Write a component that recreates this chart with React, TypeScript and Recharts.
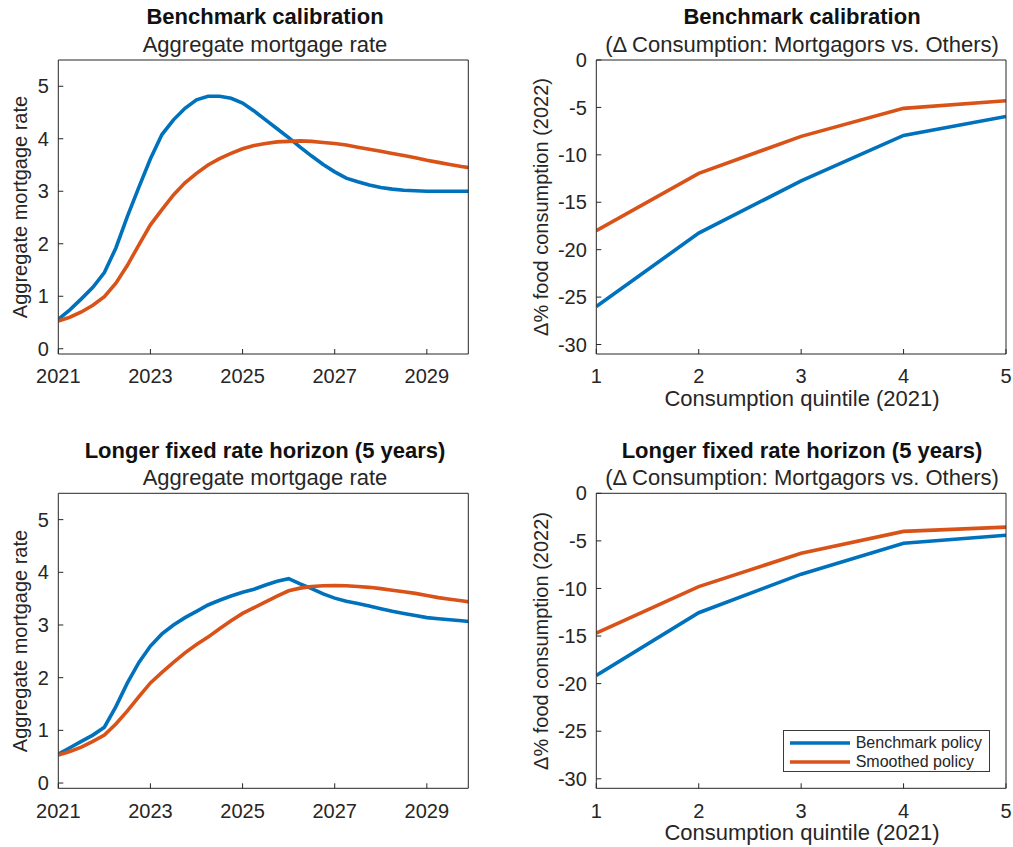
import { LineChart, Line, XAxis, YAxis, Legend } from 'recharts';

const FONT = '"Liberation Sans", Arial, Helvetica, sans-serif';
const BLUE = '#0072BD';
const ORANGE = '#D95319';
const INK = '#262626';
const LINE_W = 3.6;

// quarterly time grid
const years = [
  2021, 2021.25, 2021.5, 2021.75, 2022, 2022.25, 2022.5, 2022.75, 2023, 2023.25, 2023.5, 2023.75,
  2024, 2024.25, 2024.5, 2024.75, 2025, 2025.25, 2025.5, 2025.75, 2026, 2026.25, 2026.5, 2026.75,
  2027, 2027.25, 2027.5, 2027.75, 2028, 2028.25, 2028.5, 2028.75, 2029, 2029.25, 2029.5, 2029.75, 2030,
];

// aggregate mortgage rate, benchmark calibration
const rateBenchmark = [
  0.56, 0.74, 0.95, 1.17, 1.45, 1.92, 2.52, 3.08, 3.62, 4.08, 4.36, 4.58,
  4.74, 4.81, 4.81, 4.77, 4.68, 4.53, 4.36, 4.19, 4.02, 3.84, 3.67, 3.51,
  3.37, 3.25, 3.18, 3.12, 3.07, 3.04, 3.02, 3.01, 3.0, 3.0, 3.0, 3.0, 3.0,
];
const rateSmoothed = [
  0.53, 0.6, 0.7, 0.83, 0.99, 1.25, 1.59, 1.98, 2.36, 2.65, 2.93, 3.16,
  3.34, 3.5, 3.62, 3.72, 3.81, 3.87, 3.91, 3.94, 3.95, 3.96, 3.95, 3.93,
  3.91, 3.88, 3.84, 3.8, 3.76, 3.72, 3.68, 3.64, 3.59, 3.55, 3.51, 3.47, 3.44,
];

// aggregate mortgage rate, 5-year fixed horizon
const rateBenchmarkLong = [
  0.55, 0.67, 0.79, 0.91, 1.06, 1.45, 1.9, 2.29, 2.6, 2.83, 3.0, 3.14,
  3.26, 3.38, 3.47, 3.55, 3.62, 3.68, 3.76, 3.83, 3.88, 3.78, 3.69, 3.59,
  3.51, 3.45, 3.41, 3.36, 3.31, 3.26, 3.22, 3.18, 3.14, 3.12, 3.1, 3.08, 3.06,
];
const rateSmoothedLong = [
  0.53, 0.6, 0.68, 0.79, 0.91, 1.12, 1.37, 1.64, 1.9, 2.1, 2.29, 2.47,
  2.63, 2.77, 2.93, 3.08, 3.22, 3.33, 3.44, 3.55, 3.65, 3.7, 3.73, 3.745,
  3.75, 3.745, 3.73, 3.715, 3.69, 3.66, 3.63, 3.6, 3.56, 3.52, 3.49, 3.46, 3.43,
];

// consumption gap by quintile
const quintiles = [1, 2, 3, 4, 5];
const consBenchmark = [-26.0, -18.25, -12.75, -7.95, -5.95];
const consSmoothed = [-18.0, -11.95, -8.05, -5.1, -4.3];
const consBenchmarkLong = [-19.15, -12.55, -8.5, -5.25, -4.4];
const consSmoothedLong = [-14.7, -9.8, -6.3, -4.0, -3.55];

const yearTicks = [2021, 2023, 2025, 2027, 2029];
const rateTicks = [0, 1, 2, 3, 4, 5];
const quintileTicks = [1, 2, 3, 4, 5];
const consTicks = [-30, -25, -20, -15, -10, -5, 0];

const zip = (xs: number[], a: number[], b: number[]) =>
  xs.map((x, i) => ({ x, bench: a[i], smooth: b[i] }));

type Box = { left: number; top: number; width: number; height: number };
type Plot = { left: number; top: number; right: number; bottom: number };

const tickStyle = { fill: INK, fontSize: 20, fontFamily: FONT };

function LegendBox(props: any) {
  const items = props.payload || [];
  return (
    <div
      style={{
        position: 'relative',
        width: 207,
        height: 42,
        boxSizing: 'border-box',
        border: '1px solid #3a3a3a',
        background: '#fff',
        fontFamily: FONT,
        fontSize: 16,
        color: INK,
      }}
    >
      {items.map((p: any, i: number) => (
        <div
          key={i}
          style={{ position: 'absolute', left: 6, top: 3 + i * 18.7, height: 18, display: 'flex', alignItems: 'center' }}
        >
          <svg width={60} height={6}>
            <line x1={0} y1={3} x2={60} y2={3} stroke={p.color} strokeWidth={LINE_W} />
          </svg>
          <span style={{ marginLeft: 6, lineHeight: '18px' }}>{p.value}</span>
        </div>
      ))}
    </div>
  );
}

function Panel({
  box,
  plot,
  data,
  xDomain,
  xTicks,
  yDomain,
  yTicks,
  legend = false,
}: {
  box: Box;
  plot: Plot;
  data: { x: number; bench: number; smooth: number }[];
  xDomain: [number, number];
  xTicks: number[];
  yDomain: [number, number];
  yTicks: number[];
  legend?: boolean;
}) {
  const leftW = plot.left - box.left;
  const rightW = box.left + box.width - plot.right;
  const topH = plot.top - box.top;
  const bottomH = box.top + box.height - plot.bottom;
  return (
    <div style={{ position: 'absolute', left: box.left, top: box.top }}>
      <LineChart width={box.width} height={box.height} data={data} margin={{ top: 0, right: 0, bottom: 0, left: 0 }}>
        <XAxis
          dataKey="x"
          type="number"
          domain={xDomain}
          ticks={xTicks}
          allowDataOverflow
          interval={0}
          height={bottomH}
          tickSize={-5}
          tickMargin={20}
          stroke={INK}
          tick={tickStyle}
        />
        <XAxis
          xAxisId="top"
          orientation="top"
          dataKey="x"
          type="number"
          domain={xDomain}
          ticks={xTicks}
          allowDataOverflow
          interval={0}
          height={topH}
          tickSize={-5}
          stroke={INK}
          tick={false}
        />
        <YAxis
          type="number"
          domain={yDomain}
          ticks={yTicks}
          allowDataOverflow
          interval={0}
          width={leftW}
          tickSize={-5}
          tickMargin={14.5}
          stroke={INK}
          tick={tickStyle}
        />
        <YAxis
          yAxisId="right"
          orientation="right"
          type="number"
          domain={yDomain}
          ticks={yTicks}
          allowDataOverflow
          interval={0}
          width={rightW}
          tickSize={-5}
          stroke={INK}
          tick={false}
        />
        <Line
          type="linear"
          dataKey="bench"
          name="Benchmark policy"
          stroke={BLUE}
          strokeWidth={LINE_W}
          dot={false}
          isAnimationActive={false}
        />
        <Line
          type="linear"
          dataKey="smooth"
          name="Smoothed policy"
          stroke={ORANGE}
          strokeWidth={LINE_W}
          dot={false}
          isAnimationActive={false}
        />
        {legend && (
          <Legend
            layout="vertical"
            align="center"
            verticalAlign="middle"
            content={<LegendBox />}
            wrapperStyle={{ left: 282.7, top: 300, width: 207, height: 42 }}
          />
        )}
      </LineChart>
    </div>
  );
}

function Labels() {
  const title = { fontSize: 22, fontWeight: 'bold' as const, fill: '#111', textAnchor: 'middle' as const };
  const sub = { fontSize: 22, fill: INK, textAnchor: 'middle' as const };
  const ylab = { fontSize: 20, fill: INK, textAnchor: 'middle' as const };
  const xlab = { fontSize: 22, fill: INK, textAnchor: 'middle' as const };
  return (
    <svg
      width={1013}
      height={847}
      style={{ position: 'absolute', left: 0, top: 0, pointerEvents: 'none' }}
      fontFamily={FONT}
    >
      <text x={265} y={24} {...title}>Benchmark calibration</text>
      <text x={265} y={51.7} {...sub}>Aggregate mortgage rate</text>
      <text transform="translate(27,207) rotate(-90)" {...ylab}>Aggregate mortgage rate</text>

      <text x={802} y={24} {...title}>Benchmark calibration</text>
      <text x={802} y={51.7} {...sub}>(Δ Consumption: Mortgagors vs. Others)</text>
      <text transform="translate(547.6,207) rotate(-90)" {...ylab}>Δ% food consumption (2022)</text>
      <text x={802} y={406} {...xlab}>Consumption quintile (2021)</text>

      <text x={265} y={457.7} {...title}>Longer fixed rate horizon (5 years)</text>
      <text x={265} y={485} {...sub}>Aggregate mortgage rate</text>
      <text transform="translate(27,641) rotate(-90)" {...ylab}>Aggregate mortgage rate</text>

      <text x={802} y={457.7} {...title}>Longer fixed rate horizon (5 years)</text>
      <text x={802} y={485} {...sub}>(Δ Consumption: Mortgagors vs. Others)</text>
      <text transform="translate(547.6,641) rotate(-90)" {...ylab}>Δ% food consumption (2022)</text>
      <text x={802} y={840} {...xlab}>Consumption quintile (2021)</text>
    </svg>
  );
}

export default function App() {
  return (
    <div style={{ position: 'absolute', left: 0, top: 0, width: 1013, height: 847, background: '#fff', fontFamily: FONT }}>
      <Panel
        box={{ left: 0, top: 0, width: 490, height: 420 }}
        plot={{ left: 58.3, top: 60, right: 468.3, bottom: 354 }}
        data={zip(years, rateBenchmark, rateSmoothed)}
        xDomain={[2021, 2029.9]}
        xTicks={yearTicks}
        yDomain={[-0.1, 5.5]}
        yTicks={rateTicks}
      />
      <Panel
        box={{ left: 500, top: 0, width: 513, height: 420 }}
        plot={{ left: 596.3, top: 60, right: 1006, bottom: 354 }}
        data={zip(quintiles, consBenchmark, consSmoothed)}
        xDomain={[1, 5]}
        xTicks={quintileTicks}
        yDomain={[-31, 0]}
        yTicks={consTicks}
      />
      <Panel
        box={{ left: 0, top: 430, width: 490, height: 417 }}
        plot={{ left: 58.3, top: 493.3, right: 468.3, bottom: 788.3 }}
        data={zip(years, rateBenchmarkLong, rateSmoothedLong)}
        xDomain={[2021, 2029.9]}
        xTicks={yearTicks}
        yDomain={[-0.1, 5.5]}
        yTicks={rateTicks}
      />
      <Panel
        box={{ left: 500, top: 430, width: 513, height: 417 }}
        plot={{ left: 596.3, top: 493.3, right: 1006, bottom: 788.3 }}
        data={zip(quintiles, consBenchmarkLong, consSmoothedLong)}
        xDomain={[1, 5]}
        xTicks={quintileTicks}
        yDomain={[-31, 0]}
        yTicks={consTicks}
        legend
      />
      <Labels />
    </div>
  );
}
